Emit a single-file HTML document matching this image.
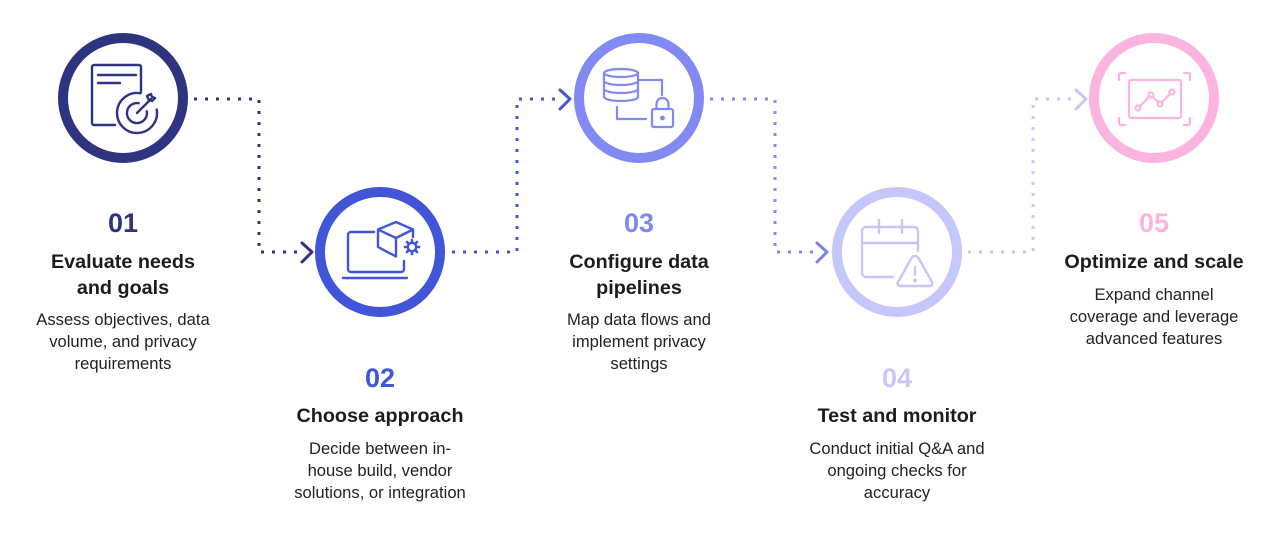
<!DOCTYPE html>
<html>
<head>
<meta charset="utf-8">
<style>
  html,body{margin:0;padding:0;background:#fff;}
  svg{display:block;}
  .num{font-family:"Liberation Sans",sans-serif;font-weight:700;font-size:27px;text-anchor:middle;}
  .ttl{font-family:"Liberation Sans",sans-serif;font-weight:700;font-size:19.8px;fill:#1c1c1c;text-anchor:middle;}
  .bdy{font-family:"Liberation Sans",sans-serif;font-size:16.6px;fill:#222;text-anchor:middle;}
</style>
</head>
<body>
<svg width="1286" height="542" viewBox="0 0 1286 542" xmlns="http://www.w3.org/2000/svg">
  <!-- connectors -->
  <g fill="none" stroke-width="3" stroke-dasharray="3 8">
    <path d="M194 99 H259 V252 H304" stroke="#2e3480"/>
    <path d="M452 252 H517 V99 H563" stroke="#4155d9"/>
    <path d="M710 99 H775 V252 H820" stroke="#8189f3"/>
    <path d="M968 252 H1033 V99 H1079" stroke="#c5c7fa"/>
  </g>
  <!-- chevrons -->
  <g fill="none" stroke-width="3" stroke-linecap="round" stroke-linejoin="round">
    <path d="M302 243 L312 252 L302 262" stroke="#2e3480"/>
    <path d="M560 90 L570 99 L560 109" stroke="#4155d9"/>
    <path d="M817 243 L827 252 L817 262" stroke="#7b82ee"/>
    <path d="M1076 90 L1086 99 L1076 109" stroke="#c5c7fa"/>
  </g>
  <!-- circles -->
  <g fill="#fff" stroke-width="10">
    <circle cx="123" cy="98" r="60" stroke="#2e3480"/>
    <circle cx="380" cy="252" r="60" stroke="#4155d9"/>
    <circle cx="639" cy="98" r="60" stroke="#8189f3"/>
    <circle cx="897" cy="252" r="60" stroke="#c5c7fa"/>
    <circle cx="1154" cy="98" r="60" stroke="#fbb4df"/>
  </g>

  <!-- icon 1 -->
  <g fill="none" stroke="#2e3480" stroke-width="2.4" stroke-linecap="round" stroke-linejoin="round">
    <path d="M115 125 H94 a2 2 0 0 1 -2 -2 V67 a2 2 0 0 1 2 -2 H139 a2 2 0 0 1 2 2 V92"/>
    <path d="M98 75 H136"/>
    <path d="M98 83 H120"/>
    <path d="M140.5 93.3 A20 20 0 1 0 156.7 109.5"/>
    <path d="M138.7 103.2 A10 10 0 1 0 146.8 111.3"/>
    <path d="M137 113 L151 99"/>
    <path d="M147 96 L148.5 99.5 L152 101 L155 98 L152 97 L151 94 Z"/>
  </g>

  <!-- icon 2 -->
  <g fill="none" stroke="#4155d9" stroke-width="2.4" stroke-linecap="round" stroke-linejoin="round">
    <path d="M374 232 H351 a3 3 0 0 0 -3 3 V269 a3 3 0 0 0 3 3 H401 a3 3 0 0 0 3 -3 V261"/>
    <path d="M343 278 H407"/>
    <path d="M396 222 L378 229.5 V247 L396 256.5 M396 222 L413 229.5 M378 229.5 L396 238 L413 229.5 M396 238 V256.5 M413 229.5 V237"/>
    <circle cx="412" cy="247" r="4.2"/>
    <path d="M412 240 V241.5 M412 252.5 V254 M405 247 H406.5 M417.5 247 H419 M407 242 L408 243 M416 251 L417 252 M417 242 L416 243 M408 251 L407 252" stroke-width="2.6"/>
  </g>

  <!-- icon 3 -->
  <g fill="none" stroke="#8189f3" stroke-width="2.2" stroke-linecap="round" stroke-linejoin="round">
    <ellipse cx="621" cy="73" rx="17" ry="4"/>
    <path d="M604 73 V97 a17 4 0 0 0 34 0 V73"/>
    <path d="M604 81 a17 4 0 0 0 34 0"/>
    <path d="M604 89 a17 4 0 0 0 34 0"/>
    <path d="M639 80 H662 V95"/>
    <path d="M617 107 V119 H646"/>
    <rect x="652" y="109" width="21" height="18" rx="2"/>
    <path d="M656.5 109 V104 a6 6 0 0 1 12 0 V109"/>
    <circle cx="662.5" cy="118" r="1.3" fill="#8189f3"/>
  </g>

  <!-- icon 4 -->
  <g fill="none" stroke="#c5c7fa" stroke-width="2.4" stroke-linecap="round" stroke-linejoin="round">
    <path d="M893 277 H866 a4 4 0 0 1 -4 -4 V231 a4 4 0 0 1 4 -4 H914 a4 4 0 0 1 4 4 V251"/>
    <path d="M862 243 H918"/>
    <path d="M879 220 V233 M902 220 V233"/>
    <path d="M911.5 258 L898 282 a2.5 2.5 0 0 0 2 4 H930 a2.5 2.5 0 0 0 2 -4 L918.5 258 a4 4 0 0 0 -7 0 Z"/>
    <path d="M915 267 V275"/>
    <circle cx="915" cy="280.5" r="0.8" fill="#c5c7fa"/>
  </g>

  <!-- icon 5 -->
  <g fill="none" stroke="#fbb4df" stroke-width="2.2" stroke-linecap="round" stroke-linejoin="round">
    <path d="M1119 80 V75 a2 2 0 0 1 2 -2 H1125"/>
    <path d="M1184 73 H1188 a2 2 0 0 1 2 2 V80"/>
    <path d="M1119 118 V123 a2 2 0 0 0 2 2 H1125"/>
    <path d="M1184 125 H1188 a2 2 0 0 0 2 -2 V118"/>
    <rect x="1129" y="80" width="52" height="38" rx="2"/>
    <path d="M1140 106 L1149.5 96.5 M1152.5 96.5 L1158.5 102.5 M1161.5 102.5 L1170 94"/>
    <circle cx="1138" cy="108" r="2.5"/>
    <circle cx="1151" cy="95" r="2.5"/>
    <circle cx="1160" cy="104" r="2.5"/>
    <circle cx="1172" cy="92" r="2.5"/>
  </g>

  <!-- column 1 -->
  <text class="num" x="123" y="232" fill="#2e3480">01</text>
  <text class="ttl" x="123" y="268">Evaluate needs</text>
  <text class="ttl" x="123" y="294">and goals</text>
  <text class="bdy" x="123" y="325">Assess objectives, data</text>
  <text class="bdy" x="123" y="347">volume, and privacy</text>
  <text class="bdy" x="123" y="369">requirements</text>

  <!-- column 2 -->
  <text class="num" x="380" y="387" fill="#4155d9">02</text>
  <text class="ttl" x="380" y="422">Choose approach</text>
  <text class="bdy" x="380" y="454">Decide between in-</text>
  <text class="bdy" x="380" y="476">house build, vendor</text>
  <text class="bdy" x="380" y="498">solutions, or integration</text>

  <!-- column 3 -->
  <text class="num" x="639" y="232" fill="#7f88f2">03</text>
  <text class="ttl" x="639" y="268">Configure data</text>
  <text class="ttl" x="639" y="294">pipelines</text>
  <text class="bdy" x="639" y="325">Map data flows and</text>
  <text class="bdy" x="639" y="347">implement privacy</text>
  <text class="bdy" x="639" y="369">settings</text>

  <!-- column 4 -->
  <text class="num" x="897" y="387" fill="#c6c8fa">04</text>
  <text class="ttl" x="897" y="422">Test and monitor</text>
  <text class="bdy" x="897" y="454">Conduct initial Q&amp;A and</text>
  <text class="bdy" x="897" y="476">ongoing checks for</text>
  <text class="bdy" x="897" y="498">accuracy</text>

  <!-- column 5 -->
  <text class="num" x="1154" y="232" fill="#fbb4df">05</text>
  <text class="ttl" x="1154" y="268">Optimize and scale</text>
  <text class="bdy" x="1154" y="300">Expand channel</text>
  <text class="bdy" x="1154" y="322">coverage and leverage</text>
  <text class="bdy" x="1154" y="344">advanced features</text>
</svg>
</body>
</html>
